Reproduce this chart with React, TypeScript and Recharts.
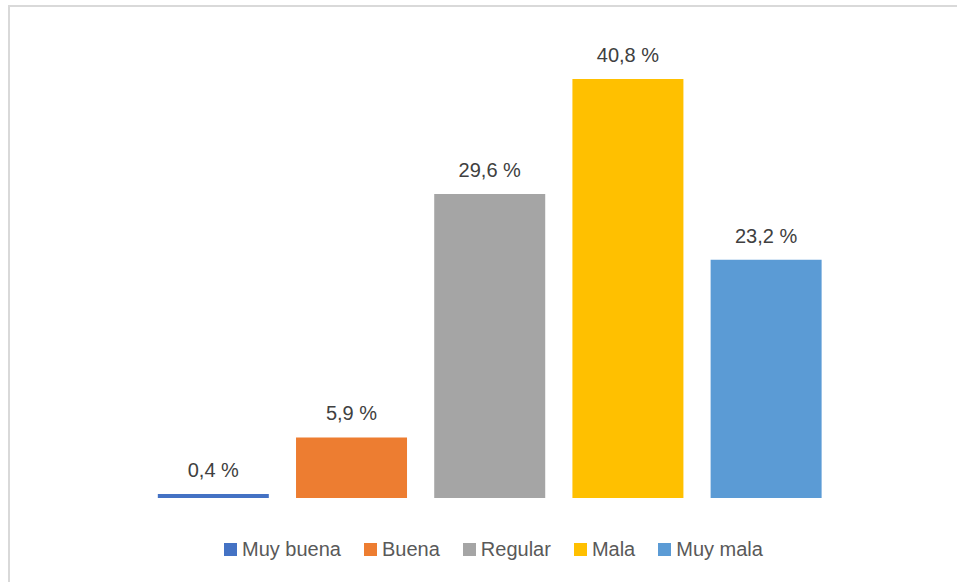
import { BarChart, Bar, XAxis, YAxis, Cell, LabelList } from 'recharts'

const categories = ['Muy buena', 'Buena', 'Regular', 'Mala', 'Muy mala']
const values = [0.4, 5.9, 29.6, 40.8, 23.2]
const colors = ['#4472C4', '#ED7D31', '#A5A5A5', '#FFC000', '#5B9BD5']

const data = categories.map((name, i) => ({ name, value: values[i] }))

const FONT = '"Liberation Sans", Arial, sans-serif'

const fmt = (v: number) => `${v.toFixed(1).replace('.', ',')} %`

export default function App() {
  return (
    <div style={{ position: 'absolute', left: 0, top: 0, width: 957, height: 582, overflow: 'hidden', background: '#fff' }}>
      <div style={{ position: 'absolute', left: 8, top: 5, width: 1000, height: 700, border: '2px solid #d9d9d9', boxSizing: 'border-box' }} />
      <div style={{ position: 'absolute', left: 0, top: 0 }}>
        <BarChart width={957} height={582} data={data} margin={{ top: 36, right: 122, bottom: 84, left: 144 }} barCategoryGap="10%">
          <XAxis dataKey="name" hide />
          <YAxis domain={[0, 45]} hide />
          <Bar dataKey="value" isAnimationActive={false}>
            {data.map((d, i) => (
              <Cell key={d.name} fill={colors[i]} />
            ))}
            <LabelList dataKey="value" position="top" offset={17} formatter={(v: any) => fmt(Number(v))} fill="#404040" fontSize={20} fontFamily={FONT} />
          </Bar>
        </BarChart>
      </div>
      <div style={{ position: 'absolute', top: 536, left: 0, width: 987, height: 26, display: 'flex', justifyContent: 'center', alignItems: 'center', fontFamily: FONT, fontSize: 20, color: '#595959' }}>
        {categories.map((c, i) => (
          <div key={c} style={{ display: 'flex', alignItems: 'center', marginRight: i < categories.length - 1 ? 23 : 0 }}>
            <span style={{ display: 'inline-block', width: 13, height: 13, background: colors[i], marginRight: 5 }} />
            <span>{c}</span>
          </div>
        ))}
      </div>
    </div>
  )
}
